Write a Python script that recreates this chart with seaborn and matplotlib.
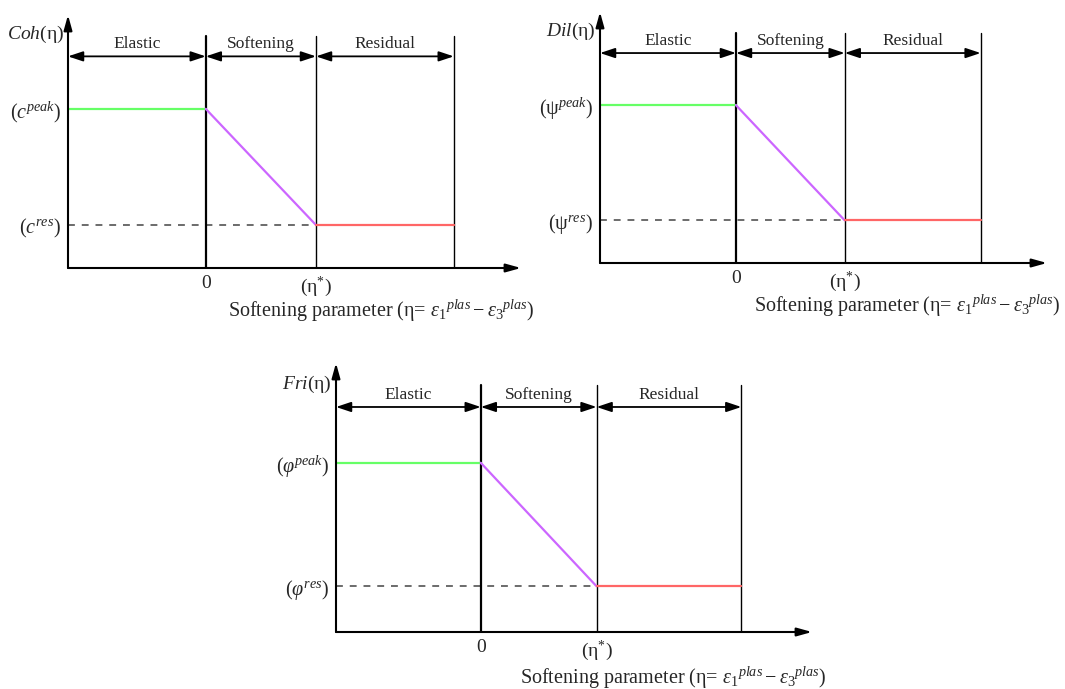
import matplotlib
matplotlib.use('Agg')
import matplotlib.pyplot as plt
import seaborn as sns
import pandas as pd

# Softening parameter breakpoints (eta units, eta* = 1)
ETA_START = -1.25
ETA_ZERO = 0.0
ETA_STAR = 1.0
ETA_END = 2.25
ETA_AXIS_END = 2.86

# Normalised strength levels
PEAK = 1.0
RESIDUAL = 0.27
Y_TOP = 1.59
BOUNDARY_TOP = 1.46
ZONE_ARROW_Y = 1.33

ZONES = ['Elastic', 'Softening', 'Residual']
SEGMENT_COLORS = {'Elastic': '#66ff66', 'Softening': '#cc66ff', 'Residual': '#ff6666'}

PANEL_YLABELS = [r'$Coh$(η)', r'$Dil$(η)', r'$Fri$(η)']
PANEL_PEAK_LABELS = [r'($c^{peak}$)', r'($\mathrm{ψ}^{peak}$)', r'($\varphi^{peak}$)']
PANEL_RES_LABELS = [r'($c^{res}$)', r'($\mathrm{ψ}^{res}$)', r'($\varphi^{res}$)']
XTICK_LABELS = ['0', r'(η$^{*}$)']
XLABEL = r'Softening parameter (η= ${\varepsilon_1}^{plas} - {\varepsilon_3}^{plas}$)'

# Axes placement in pixels (left, top, right, bottom) on a 1065x689 canvas
W, H = 1065, 689
PANEL_BOXES = [(68, 15, 521, 268), (600, 12, 1047, 263), (336, 363, 812, 632)]

sns.set_style('white')
plt.rcParams['font.family'] = ['Liberation Serif', 'DejaVu Serif']
plt.rcParams['mathtext.fontset'] = 'custom'
plt.rcParams['mathtext.rm'] = 'Liberation Serif'
plt.rcParams['mathtext.it'] = 'Liberation Serif:italic'
plt.rcParams['mathtext.bf'] = 'Liberation Serif:bold'


def draw_panel(ax, ylabel, peak_label, res_label):

    # Build the piecewise curve
    curve = pd.DataFrame({
        'eta': [ETA_START, ETA_ZERO, ETA_ZERO, ETA_STAR, ETA_STAR, ETA_END],
        'value': [PEAK, PEAK, PEAK, RESIDUAL, RESIDUAL, RESIDUAL],
        'zone': ['Elastic', 'Elastic', 'Softening', 'Softening',
                 'Residual', 'Residual'],
    })
    sns.lineplot(data=curve, x='eta', y='value', hue='zone',
                 palette=SEGMENT_COLORS, lw=1.6, legend=False, ax=ax,
                 sort=False, zorder=3)

    # Dashed residual guide
    ax.plot([ETA_START, ETA_STAR], [RESIDUAL, RESIDUAL], ls=(0, (4.5, 4.5)),
            color='#444444', lw=1.1, zorder=2)

    # Zone boundaries
    ax.plot([ETA_ZERO, ETA_ZERO], [0, BOUNDARY_TOP], color='black', lw=1.6)
    for xb in [ETA_STAR, ETA_END]:
        ax.plot([xb, xb], [0, BOUNDARY_TOP], color='black', lw=1.0)

    # Zone double arrows and names
    edges = [ETA_START, ETA_ZERO, ETA_STAR, ETA_END]
    for name, x0, x1 in zip(ZONES, edges[:-1], edges[1:]):
        ax.annotate('', xy=(x1, ZONE_ARROW_Y), xytext=(x0, ZONE_ARROW_Y),
                    arrowprops=dict(arrowstyle='<|-|>,head_length=0.9,head_width=0.3',
                                    mutation_scale=10, color='black', lw=1.3,
                                    shrinkA=0, shrinkB=0))
        ax.text((x0 + x1) / 2, ZONE_ARROW_Y + 0.025, name, ha='center',
                va='bottom', fontsize=12.5)

    # Axes with arrow heads
    ax.annotate('', xy=(ETA_AXIS_END, 0), xytext=(ETA_START, 0),
                arrowprops=dict(arrowstyle='-|>,head_length=0.9,head_width=0.25',
                                mutation_scale=10, color='black', lw=1.5,
                                shrinkA=0, shrinkB=0), annotation_clip=False)
    ax.annotate('', xy=(ETA_START, Y_TOP), xytext=(ETA_START, 0),
                arrowprops=dict(arrowstyle='-|>,head_length=0.9,head_width=0.25',
                                mutation_scale=10, color='black', lw=1.5,
                                shrinkA=0, shrinkB=0), annotation_clip=False)

    ax.set_xlim(ETA_START, ETA_AXIS_END)
    ax.set_ylim(0, Y_TOP)
    for spine in ax.spines.values():
        spine.set_visible(False)

    ax.set_xticks([ETA_ZERO, ETA_STAR])
    ax.set_xticklabels(XTICK_LABELS, fontsize=14)
    ax.set_yticks([RESIDUAL, PEAK])
    ax.set_yticklabels([res_label, peak_label], fontsize=14.5)
    ax.tick_params(length=0, pad=5)
    ax.set_xlabel('')
    ax.set_ylabel('')

    ax.text(-0.01, 1.465, ylabel, transform=ax.get_yaxis_transform(),
            ha='right', va='center', fontsize=14)
    ax.text(1.03, -0.17, XLABEL, transform=ax.transAxes, ha='right',
            va='center', fontsize=14.5)


def main():

    fig = plt.figure(figsize=(W / 100, H / 100), dpi=100)

    for box, ylab, peak_lab, res_lab in zip(PANEL_BOXES, PANEL_YLABELS,
                                            PANEL_PEAK_LABELS, PANEL_RES_LABELS):
        left, top, right, bottom = box
        ax = fig.add_axes([left / W, 1 - bottom / H, (right - left) / W,
                           (bottom - top) / H])
        ax.patch.set_alpha(0)
        draw_panel(ax, ylab, peak_lab, res_lab)

    fig.savefig('out.png', dpi=100, facecolor='white')
    plt.close()


if __name__ == "__main__":
    main()
